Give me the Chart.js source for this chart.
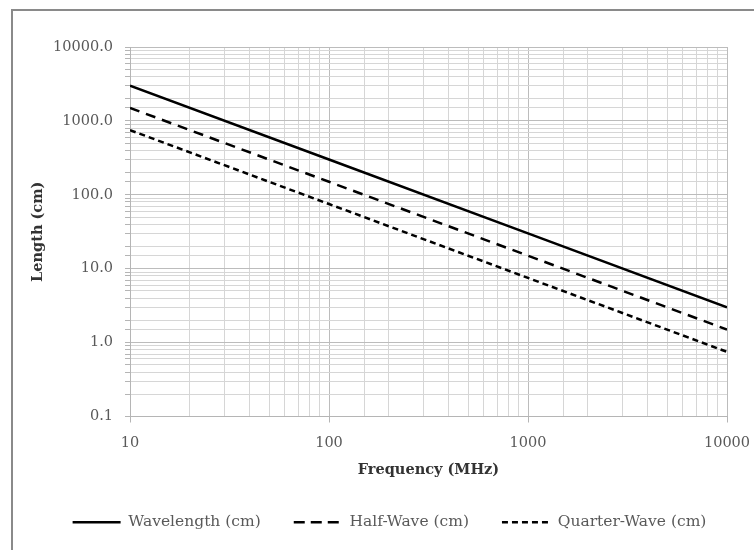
<!DOCTYPE html>
<html>
<head>
  <meta charset="utf-8">
  <title>Antenna Length vs Frequency</title>
  <script src="https://cdn.jsdelivr.net/npm/chart.js"></script>
  <style>
    body {
      margin: 0;
      background: #fff;
      overflow: hidden;
    }

    .frame {
      position: absolute;
      left: 11px;
      top: 9px;
      width: 800px;
      height: 600px;
      border: 2px solid #8a8a8a;
    }

    .chart-box {
      position: absolute;
      left: 0;
      top: 0;
      width: 754px;
      height: 550px;
    }
  </style>
</head>
<body>
  <div class="frame"></div>
  <div class="chart-box">
    <canvas id="lenChart" width="754" height="550"></canvas>
  </div>

  <script>
    // frequency in MHz
    const freqs        = [10, 100, 1000, 10000];
    const wavelength   = [3000, 300, 30, 3];
    const halfWave     = [1500, 150, 15, 1.5];
    const quarterWave  = [750, 75, 7.5, 0.75];

    const seriesNames  = ['Wavelength (cm)', 'Half-Wave (cm)', 'Quarter-Wave (cm)'];

    const FONT = '"DejaVu Serif", "Liberation Serif", serif';

    function isDecade(v) {
      const l = Math.log10(v);
      return Math.abs(l - Math.round(l)) < 1e-9;
    }

    function pts(ys) {
      return freqs.map((f, i) => ({ x: f, y: ys[i] }));
    }

    // nudge the legend row a bit to the right, like the original
    const legendShift = {
      id: 'legendShift',
      afterLayout(chart) {
        const lg = chart.legend;
        if (!lg) return;
        lg.left += 26;
        lg.right += 26;
      }
    };

    const ctx = document.getElementById('lenChart').getContext('2d');
    const chart = new Chart(ctx, {
      type: 'line',
      data: {
        datasets: [
          { label: seriesNames[0], data: pts(wavelength),  borderColor: '#000', backgroundColor: '#000', borderWidth: 2.5, borderDash: [] },
          { label: seriesNames[1], data: pts(halfWave),    borderColor: '#000', backgroundColor: '#000', borderWidth: 2.5, borderDash: [10, 7] },
          { label: seriesNames[2], data: pts(quarterWave), borderColor: '#000', backgroundColor: '#000', borderWidth: 2.5, borderDash: [6, 4] }
        ]
      },
      plugins: [legendShift],
      options: {
        responsive: false,
        animation: false,
        parsing: false,
        elements: {
          point: { radius: 0 },
          line: { tension: 0, fill: false }
        },
        layout: {
          padding: { top: 47, right: 27, bottom: 10, left: 0 }
        },
        plugins: {
          tooltip: { enabled: false },
          legend: {
            position: 'bottom',
            labels: {
              boxWidth: 48,
              boxHeight: 0,
              padding: 33,
              color: '#595959',
              font: { family: FONT, size: 15.5 }
            }
          }
        },
        scales: {
          x: {
            type: 'logarithmic',
            min: 10,
            max: 10000,
            afterFit: s => {
              s.height = 65;
              s.paddingLeft = 0;
              s.paddingRight = 0;
            },
            border: { color: '#b5b5b5', width: 1 },
            grid: {
              color: c => isDecade(c.tick.value) ? '#bcbcbc' : '#d6d6d6',
              tickColor: c => isDecade(c.tick.value) ? '#b5b5b5' : 'rgba(0,0,0,0)',
              tickLength: 6
            },
            ticks: {
              autoSkip: false,
              maxRotation: 0,
              padding: 12,
              color: '#595959',
              font: { family: FONT, size: 14.5 },
              callback: v => isDecade(v) ? String(Math.round(v)) : ''
            },
            title: {
              display: true,
              text: 'Frequency (MHz)',
              color: '#333',
              font: { family: FONT, size: 14.5, weight: 'bold' },
              padding: { top: 0, bottom: 3 }
            }
          },
          y: {
            type: 'logarithmic',
            min: 0.1,
            max: 10000,
            afterFit: s => { s.width = 130; },
            border: { color: '#b5b5b5', width: 1 },
            grid: {
              color: c => isDecade(c.tick.value) ? '#bcbcbc' : '#d6d6d6',
              tickColor: '#b5b5b5',
              tickLength: 5
            },
            ticks: {
              autoSkip: false,
              padding: 12,
              color: '#595959',
              font: { family: FONT, size: 14.5 },
              callback: v => isDecade(v) ? Number(v).toFixed(1) : ''
            },
            title: {
              display: true,
              text: 'Length (cm)',
              color: '#333',
              font: { family: FONT, size: 14.5, weight: 'bold' },
              padding: { top: 30, bottom: 0 }
            }
          }
        }
      }
    });
  </script>
</body>
</html>
